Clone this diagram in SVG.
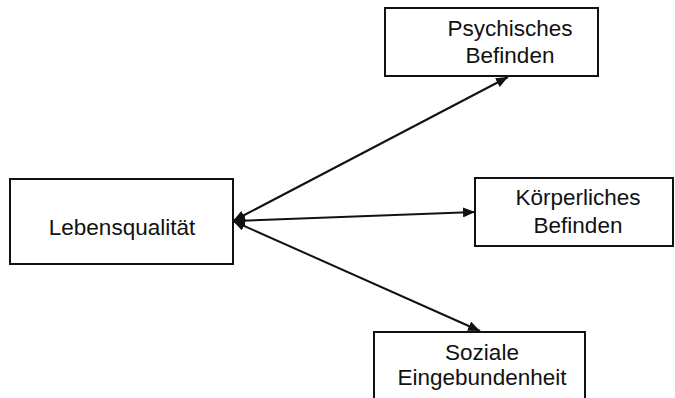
<svg xmlns="http://www.w3.org/2000/svg" width="675" height="398" viewBox="0 0 675 398">
<defs>
<style>
.box{fill:#fff;stroke:#111;stroke-width:2}
.lbl{font-family:"Liberation Sans",Arial,sans-serif;font-size:22.5px;fill:#111;text-anchor:middle}
.con{stroke:#111;stroke-width:2;fill:none;marker-start:url(#ah);marker-end:url(#ah)}
</style>
<marker id="ah" viewBox="0 0 12 10" refX="12" refY="5" markerWidth="12" markerHeight="10" markerUnits="userSpaceOnUse" orient="auto-start-reverse">
<path d="M0,0 L12,5 L0,10 z" fill="#111"/>
</marker>
</defs>
<rect width="675" height="398" fill="#fff"/>
<g id="connectors">
<line class="con" x1="233" y1="221" x2="508" y2="77"/>
<line class="con" x1="233" y1="221" x2="475" y2="212"/>
<line class="con" x1="233" y1="221" x2="480" y2="331"/>
</g>
<g id="lebensqualitaet">
<rect class="box" x="10" y="179" width="223" height="85"/>
<text class="lbl" x="122" y="235">Lebensqualität</text>
</g>
<g id="psychisches">
<rect class="box" x="385" y="8" width="213" height="68"/>
<text class="lbl" x="510" y="36">Psychisches</text>
<text class="lbl" x="510" y="63">Befinden</text>
</g>
<g id="koerperliches">
<rect class="box" x="475" y="178" width="198" height="68"/>
<text class="lbl" x="578" y="205">Körperliches</text>
<text class="lbl" x="578" y="233">Befinden</text>
</g>
<g id="soziale">
<rect class="box" x="374" y="332" width="211" height="80"/>
<text class="lbl" x="482" y="360">Soziale</text>
<text class="lbl" x="482" y="385">Eingebundenheit</text>
</g>
</svg>
